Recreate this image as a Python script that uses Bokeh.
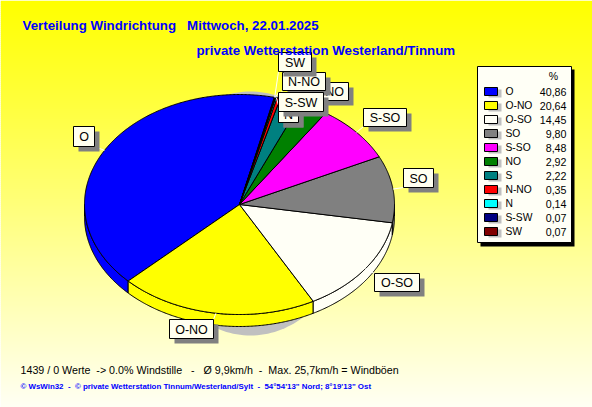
import numpy as np
from bokeh.plotting import figure
from bokeh.embed import file_html
from bokeh.resources import INLINE
from bokeh.core.properties import value

names = ["O", "O-NO", "O-SO", "SO", "S-SO", "NO", "S", "N-NO", "N", "S-SW", "SW"]
percent = [40.86, 20.64, 14.45, 9.80, 8.48, 2.92, 2.22, 0.35, 0.14, 0.07, 0.07]
percent_text = ["40,86", "20,64", "14,45", "9,80", "8,48", "2,92", "2,22", "0,35", "0,14", "0,07", "0,07"]
colors = ["#0000FF", "#FFFF00", "#FFFFF6", "#808080", "#FF00FF", "#008000", "#008080", "#FF0000", "#00FFFF", "#000080", "#800000"]

NB = "\u00a0"
title1 = f"Verteilung Windrichtung{NB*3}Mittwoch, 22.01.2025"
title2 = "private Wetterstation Westerland/Tinnum"
foot1 = f"1439 / 0 Werte{NB*2}-> 0.0% Windstille{NB*3}-{NB*3}Ø 9,9km/h{NB*2}-{NB*2}Max. 25,7km/h = Windböen"
foot2 = f"© WsWin32{NB*2}-{NB*2}© private Wetterstation Tinnum/Westerland/Sylt{NB*2}-{NB*2}54°54'13\" Nord; 8°19'13\" Ost"

# label boxes: left, top, right, bottom
boxes = {
    "O": (73, 126, 94, 146), "O-NO": (169, 319, 213, 338), "O-SO": (374, 273, 419, 291),
    "SO": (403, 168, 433, 187), "S-SO": (363, 108, 406, 126), "NO": (320, 82, 348, 100),
    "S": (278, 105, 298, 122), "N-NO": (282, 72, 325, 90), "N": (278, 105, 298, 122),
    "S-SW": (278, 92, 323, 111), "SW": (278, 52, 311, 71),
}

W, H = 592, 407
CX, CY, RX, RY, DEPTH, START = 239, 204, 155, 110, 12, 77.0

p = figure(width=W, height=H, x_range=(0, W), y_range=(H, 0), output_backend="svg",
           toolbar_location=None, min_border=0, outline_line_color=None)
p.axis.visible = False
p.grid.visible = False

# background gradient
rows = np.arange(0, H, 2)
bg = ["#FFFF%02X" % int(245 * f / H) for f in rows]
p.quad(left=0, right=W, top=rows, bottom=rows + 2.5, fill_color=bg, line_color=None)

def arc(t0, t1, dy=0):
    t = np.radians(np.linspace(t0, t1, max(3, int(abs(t1 - t0) * 2))))
    return CX + RX * np.cos(t), CY + dy - RY * np.sin(t)

# shadow
t = np.radians(np.linspace(0, 360, 181))
p.patch(250 + 100 * np.cos(t), 213 + 122 * np.sin(t), fill_color="#C0C0C0", line_color=None)

edges = START + np.cumsum([0] + percent) * 3.6
# side walls
for c, a, b in zip(colors, edges[:-1], edges[1:]):
    for lo, hi in [(a, b), (a - 360, b - 360)]:
        s, e = max(lo, 180), min(hi, 360)
        if e > s:
            x0, y0 = arc(s, e)
            x1, y1 = arc(e, s, DEPTH)
            p.patch(np.r_[x0, x1], np.r_[y0, y1], fill_color=c, line_color="black", line_width=1)
# top faces
for c, a, b in zip(colors, edges[:-1], edges[1:]):
    x, y = arc(a, b)
    p.patch(np.r_[CX, x], np.r_[CY, y], fill_color=c, line_color="black", line_width=1)

# labels
def label(n):
    l, t, r, b = boxes[n]
    p.quad(left=l + 5, right=r + 5, top=t + 5, bottom=b + 5, fill_color="#808080", line_color=None)
    p.quad(left=l, right=r, top=t, bottom=b, fill_color="#FFFFF0", line_color="black", line_width=1)
    p.text(x=[(l + r) / 2], y=[(t + b) / 2 + 0.5], text=[n], text_font=value("Liberation Sans"),
           text_font_size="12.5px", text_align="center", text_baseline="middle", text_color="black")

mid = (edges[:-1] + edges[1:]) / 2
for n, m in zip(names, mid):
    l, t, r, b = boxes[n]
    ex, ey = CX + RX * np.cos(np.radians(m)), CY - RY * np.sin(np.radians(m))
    cx = l if abs(ex - l) < abs(ex - r) else r
    cy = t if abs(ey - t) < abs(ey - b) else b
    p.line([ex, cx], [ey, cy], line_color="white", line_width=1)
for n in names:
    label(n)

# legend
p.quad(left=480, right=574, top=69, bottom=246, fill_color="black", line_color=None)
p.quad(left=477, right=571, top=66, bottom=242, fill_color="#FFFFF6", line_color="black", line_width=1)
p.text(x=[553], y=[75], text=["%"], text_font=value("Liberation Sans"), text_font_size="10.5px",
       text_align="center", text_baseline="middle", text_color="black")
ly = 91 + np.arange(len(names)) * 14
p.quad(left=488, right=501, top=ly - 2, bottom=ly + 6, fill_color="#C0C0C0", line_color=None)
p.quad(left=484, right=497, top=ly - 4, bottom=ly + 4, fill_color=colors, line_color="black", line_width=1)
p.text(x=[505] * len(names), y=ly, text=names, text_font=value("Liberation Sans"), text_font_size="10.3px",
       text_baseline="middle", text_color="black")
p.text(x=[566] * len(names), y=ly, text=percent_text, text_font=value("Liberation Sans"), text_font_size="10.7px",
       text_align="right", text_baseline="middle", text_color="black")

# titles
p.text(x=[22], y=[25], text=[title1], text_font=value("Liberation Sans"), text_font_size="13.3px",
       text_font_style="bold", text_baseline="middle", text_color="#0000FF")
p.text(x=[196], y=[50], text=[title2], text_font=value("Liberation Sans"), text_font_size="13.3px",
       text_font_style="bold", text_baseline="middle", text_color="#0000FF")
p.text(x=[20], y=[369], text=[foot1], text_font=value("Liberation Sans"), text_font_size="10.7px",
       text_baseline="middle", text_color="black")
p.text(x=[20], y=[386], text=[foot2], text_font=value("Liberation Sans"), text_font_size="7.9px",
       text_font_style="bold", text_baseline="middle", text_color="#0000FF")

open("out.html", "w").write(file_html(p, INLINE))
